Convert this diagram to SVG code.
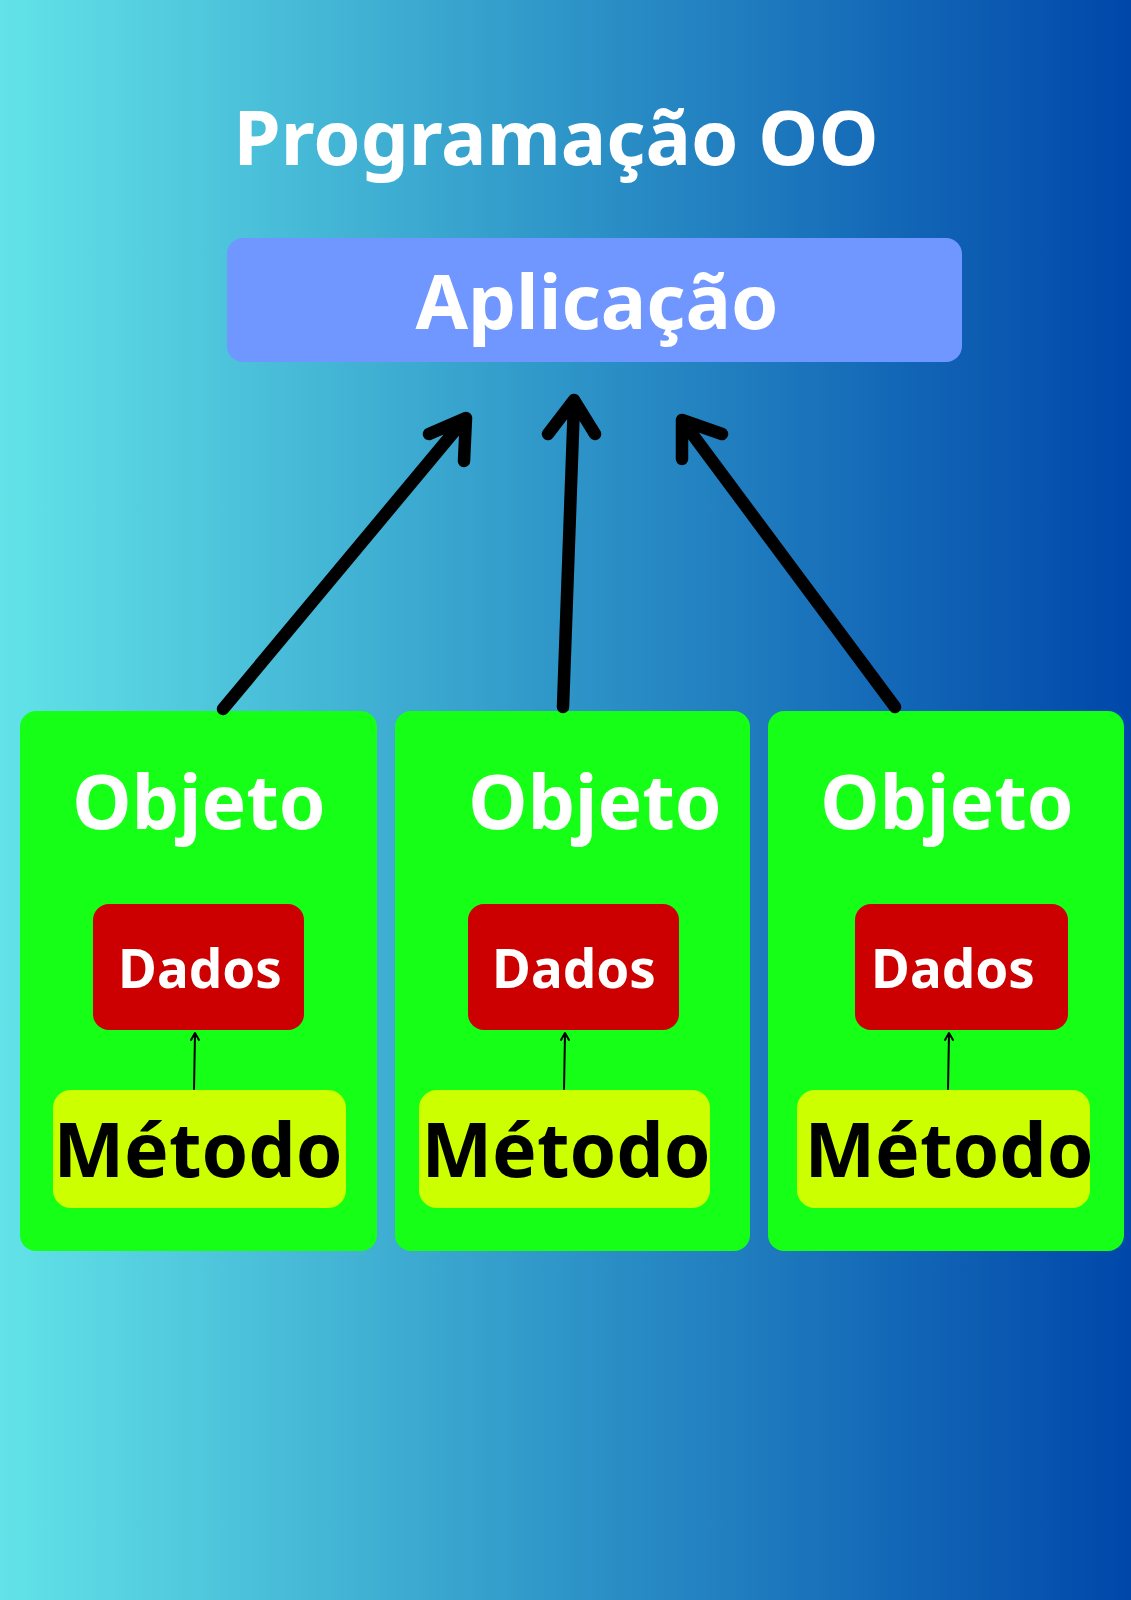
<svg xmlns="http://www.w3.org/2000/svg" width="1131" height="1600" viewBox="0 0 1131 1600">
<defs>
<linearGradient id="bg" x1="0" y1="0" x2="1" y2="0">
<stop offset="0" stop-color="#62E3E8"/>
<stop offset="0.5" stop-color="#2E95C8"/>
<stop offset="1" stop-color="#0047AA"/>
</linearGradient>
</defs>
<style>
.t{font-family:"Noto Sans","Open Sans","DejaVu Sans",sans-serif;font-weight:700;text-anchor:middle}
.w{fill:#FFFFFF}
.k{fill:#000000}
.obj{fill:#16FF16}
.dad{fill:#CC0000}
.met{fill:#CCFF00}
.big{fill:none;stroke:#000;stroke-width:12.5;stroke-linecap:round;stroke-linejoin:round}
.small{fill:none;stroke:#000;stroke-width:2;stroke-linecap:round;stroke-linejoin:round}
</style>
<rect x="0" y="0" width="1131" height="1600" fill="url(#bg)"/>
<text class="t w" x="556" y="165" font-size="76">Programação OO</text>
<g id="aplicacao">
<rect x="227" y="238" width="735" height="124" rx="16" fill="#7096FF"/>
<text class="t w" x="597" y="329" font-size="76">Aplicação</text>
</g>
<g id="objeto1">
<rect class="obj" x="20" y="711" width="357" height="540" rx="16"/>
<text class="t w" x="199" y="829" font-size="75">Objeto</text>
<g id="dados1"><rect class="dad" x="93" y="904" width="211" height="126" rx="16"/><text class="t w" x="200" y="988" font-size="53">Dados</text></g>
<g id="metodo1"><rect class="met" x="53" y="1090" width="293" height="118" rx="18"/><text class="t k" x="198" y="1177" font-size="75">Método</text></g>
</g>
<g id="objeto2">
<rect class="obj" x="395" y="711" width="355" height="540" rx="16"/>
<text class="t w" x="595" y="829" font-size="75">Objeto</text>
<g id="dados2"><rect class="dad" x="468" y="904" width="211" height="126" rx="16"/><text class="t w" x="574" y="988" font-size="53">Dados</text></g>
<g id="metodo2"><rect class="met" x="419" y="1090" width="291" height="118" rx="18"/><text class="t k" x="566" y="1177" font-size="75">Método</text></g>
</g>
<g id="objeto3">
<rect class="obj" x="768" y="711" width="356" height="540" rx="16"/>
<text class="t w" x="947" y="829" font-size="75">Objeto</text>
<g id="dados3"><rect class="dad" x="855" y="904" width="213" height="126" rx="16"/><text class="t w" x="953" y="988" font-size="53">Dados</text></g>
<g id="metodo3"><rect class="met" x="797" y="1090" width="293" height="118" rx="18"/><text class="t k" x="949" y="1177" font-size="75">Método</text></g>
</g>
<g id="connectors">
<path class="big" d="M223 709 L463 421 M429 434 L466 418 L464 461"/>
<path class="big" d="M563 707 L574 403 M548 434 L574 400 L595 434"/>
<path class="big" d="M895 707 L684 423 M722 434 L682 420 L682 459"/>
<path class="small" d="M194 1089 L195 1034 M191 1040 L195 1033 L199 1040"/>
<path class="small" d="M564 1089 L565 1034 M561 1040 L565 1033 L569 1040"/>
<path class="small" d="M948 1089 L949 1034 M945 1040 L949 1033 L953 1040"/>
</g>
</svg>
